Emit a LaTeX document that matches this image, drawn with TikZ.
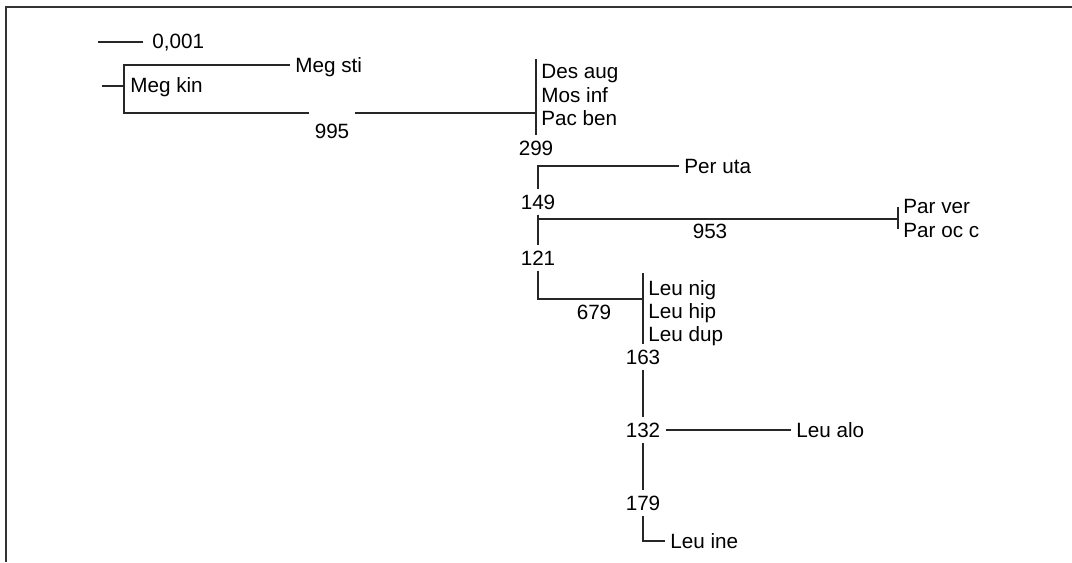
\documentclass[tikz,border=0pt]{standalone}
\usepackage{fontspec}
\setmainfont{Liberation Sans}
\usetikzlibrary{positioning}

\tikzset{
	taxon/.style={anchor=west, inner sep=3.5pt, text height=11pt, text depth=0pt, text=black, font=\fontsize{15.5}{17}\selectfont},
	support/.style={inner sep=3.5pt, text height=11pt, text depth=0pt, text=black, font=\fontsize{15.5}{17}\selectfont},
	branch/.style={line width=1.1pt, color=black!85},
}

\begin{document}
\begin{tikzpicture}[x=0.75pt, y=-0.75pt, branch]
		\useasboundingbox (0,0) rectangle (1072,562);
		\draw[line width=1.5pt, black!80] (5.5,562) -- (5.5,6.5) -- (1072,6.5);
		
		% scale bar
		\coordinate (sbl) at (98,42);
		\coordinate (sbr) at (143,42);
		\draw[line width=2.2pt] (sbl) -- (sbr);
		\node[taxon] (scalelbl) at (147,41) {0,001};
		
		% outgroup
		\coordinate (rootstub) at (102,86);
		\coordinate (megroot) at (124,86);
		\coordinate (megtop) at (124,66);
		\coordinate (megbot) at (124,113);
		\node[taxon] (megsti) at (290,65) {Meg sti};
		\node[taxon] (megkin) at (125,85) {Meg kin};
		\node[support] (n995) at (332,131) {995};
		\draw (rootstub) -- (megroot);
		\draw (megsti.west) -| (megtop) -- (megbot) -- (n995.west |- megbot);
		
		% first cluster
		\coordinate (desroot) at (536,113);
		\coordinate (destop) at (536,59);
		\node[taxon] (desaug) at (536,71) {Des aug};
		\node[taxon] (mosinf) at (536,95) {Mos inf};
		\node[taxon] (pacben) at (536,118) {Pac ben};
		\node[support] (n299) at (536,148) {299};
		\draw (n995.east |- megbot) -- (desroot);
		\draw (destop) -- (n299.north);
		
		\node[taxon] (peruta) at (679,166) {Per uta};
		\node[support] (n149) at (538,202) {149};
		\draw (peruta.west) -| (n149.north);
		
		\node[support] (n121) at (538,258) {121};
		\coordinate (parfork) at (538,219);
		\coordinate (parbar) at (898,219);
		\coordinate (partop) at (898,207);
		\coordinate (parbot) at (898,229);
		\node[taxon] (parver) at (898,206) {Par ver};
		\node[taxon] (parocc) at (898,230) {Par oc c};
		\node[support] (n953) at (710,231) {953};
		\draw (n149.south) -- (n121.north);
		\draw (parfork) -- (parbar);
		\draw (partop) -- (parbot);
		
		% Leu cluster
		\coordinate (leuroot) at (643,299);
		\coordinate (leutop) at (643,273);
		\node[taxon] (leunig) at (643,288) {Leu nig};
		\node[taxon] (leuhip) at (643,311) {Leu hip};
		\node[taxon] (leudup) at (643,334) {Leu dup};
		\node[support] (n679) at (594,312) {679};
		\node[support] (n163) at (643,357) {163};
		\draw (n121.south) |- (leuroot);
		\draw (leutop) -- (n163.north);
		
		\node[support] (n132) at (643,430) {132};
		\node[taxon] (leualo) at (791,430) {Leu alo};
		\draw (n163.south) -- (n132.north);
		\draw (n132.east) -- (leualo.west);
		
		\node[support] (n179) at (643,503) {179};
		\node[taxon] (leuine) at (665,541) {Leu ine};
		\draw (n132.south) -- (n179.north);
		\draw (n179.south) |- (leuine.west);
	\end{tikzpicture}
\end{document}
